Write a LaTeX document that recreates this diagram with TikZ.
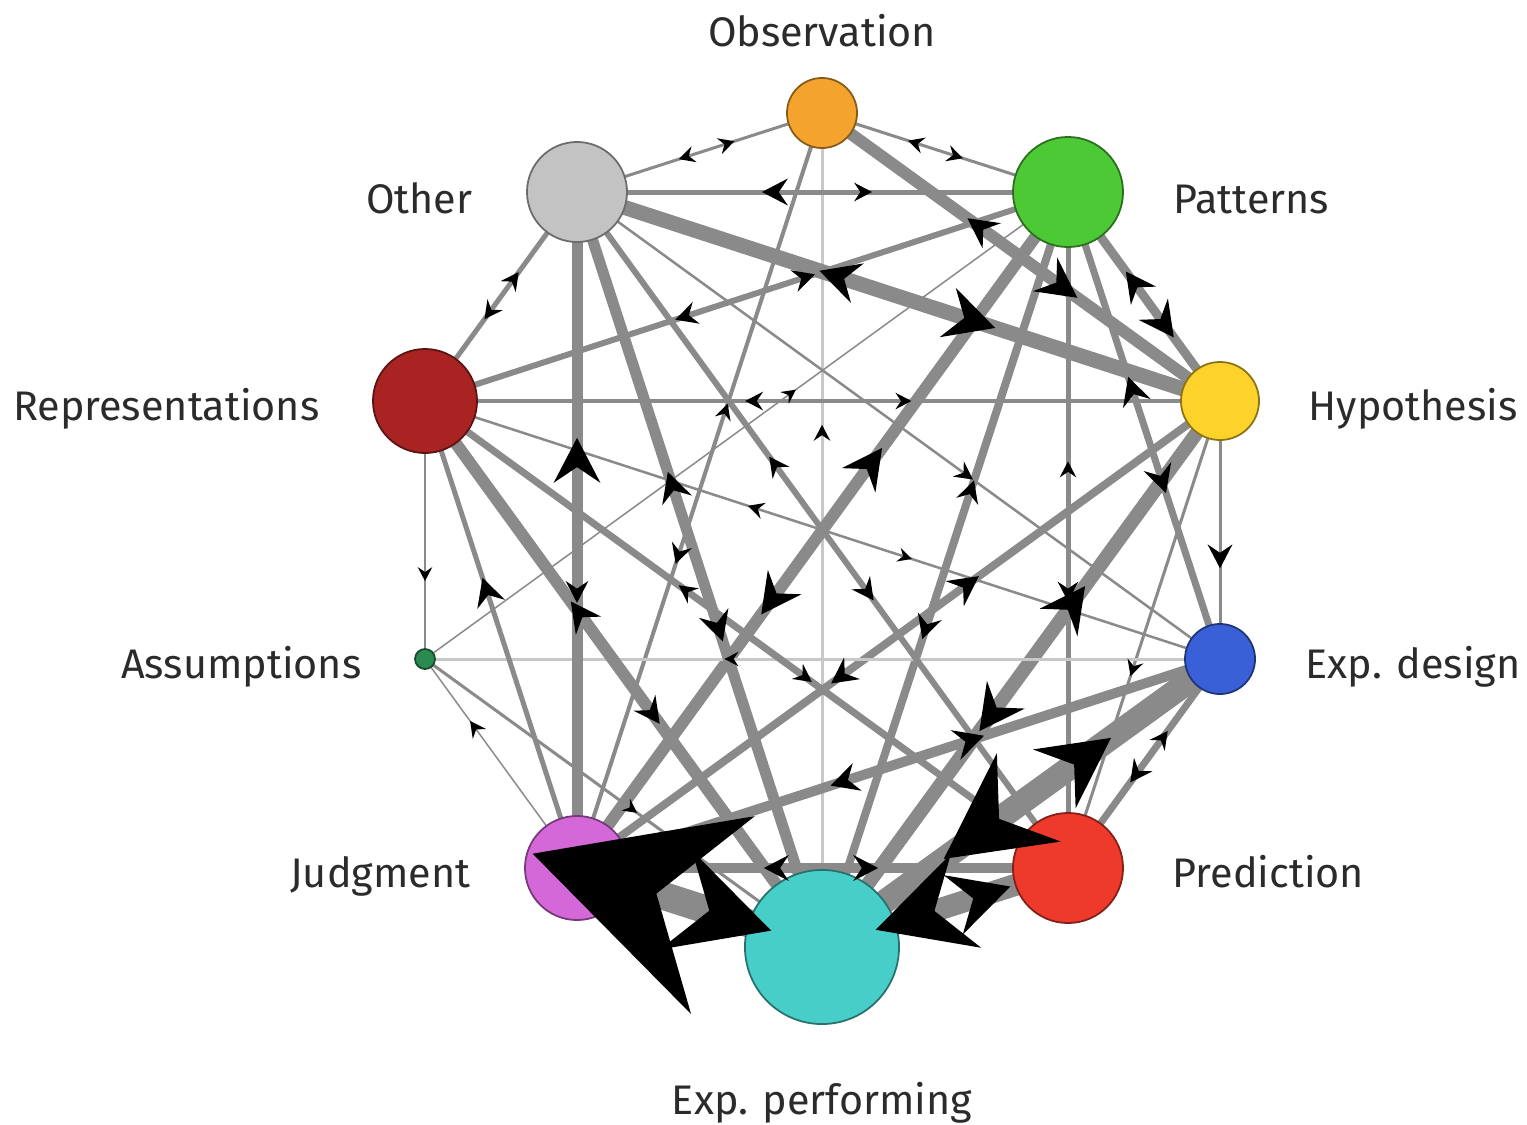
\documentclass[tikz,border=0pt]{standalone}
\usepackage{fontspec}
\setmainfont{Fira Sans}
\usetikzlibrary{decorations.markings}
\pgfdeclarelayer{bg}
\pgfsetlayers{bg,main}
\definecolor{obc}{HTML}{F4A42C}
\definecolor{pac}{HTML}{4CC934}
\definecolor{hyc}{HTML}{FDD22A}
\definecolor{dec}{HTML}{3A60D8}
\definecolor{prc}{HTML}{EE3A2A}
\definecolor{epc}{HTML}{48CEC8}
\definecolor{juc}{HTML}{D568D8}
\definecolor{asc}{HTML}{2A8A50}
\definecolor{rec}{HTML}{A82322}
\definecolor{otc}{HTML}{C3C3C3}
\definecolor{edgec}{HTML}{8A8A8A}
\definecolor{lightc}{HTML}{C8C8C8}
\definecolor{txtc}{HTML}{2B2B2B}
\newcommand\ed[4][edgec]{\draw[draw=#1, line width=#4*0.01cm] (#2.center) -- (#3.center);}
\newcommand\ar[3]{\path[postaction={decorate}, decoration={markings, mark=at position 0.6 with {\fill[black] (0.75*#3,0) -- (-0.25*#3,0.52*#3) -- (0.1*#3,0) -- (-0.25*#3,-0.52*#3) -- cycle;}}] (#1) -- (#2);}
\begin{document}
\begin{tikzpicture}[x=0.01cm,y=-0.01cm,
  vn/.style={circle, draw=#1!55!black, fill=#1, line width=0.5pt, inner sep=0pt, outer sep=0pt},
  lbl/.style={text=txtc, font=\fontsize{11.75pt}{14pt}\selectfont, inner sep=0pt}]
\useasboundingbox (0,0) rectangle (1527,1124);
% nodes
\node[vn=obc, minimum size=0.70cm] (Ob) at (822,113) {};
\node[vn=pac, minimum size=1.10cm] (Pa) at (1068,192) {};
\node[vn=hyc, minimum size=0.78cm] (Hy) at (1220,401) {};
\node[vn=dec, minimum size=0.70cm] (De) at (1220,659) {};
\node[vn=prc, minimum size=1.10cm] (Pr) at (1068,868) {};
\node[vn=epc, minimum size=1.54cm] (EP) at (822,947) {};
\node[vn=juc, minimum size=1.04cm] (Ju) at (577,868) {};
\node[vn=asc, minimum size=0.20cm] (As) at (425,659) {};
\node[vn=rec, minimum size=1.04cm] (Re) at (425,401) {};
\node[vn=otc, minimum size=1.00cm] (Ot) at (577,192) {};
% labels
\node[lbl, anchor=base] (lOb) at (822,46) {Observation};
\node[lbl, anchor=base west] (lPa) at (1173,213) {Patterns};
\node[lbl, anchor=base west] (lHy) at (1308,420) {Hypothesis};
\node[lbl, anchor=base west] (lDe) at (1305,678) {Exp. design};
\node[lbl, anchor=base west] (lPr) at (1172,887) {Prediction};
\node[lbl, anchor=base] (lEP) at (822,1114) {Exp. performing};
\node[lbl, anchor=base east] (lJu) at (471,887) {Judgment};
\node[lbl, anchor=base east] (lAs) at (362,678) {Assumptions};
\node[lbl, anchor=base east] (lRe) at (320,420) {Representations};
\node[lbl, anchor=base east] (lOt) at (473,213) {Other};
% edges
\begin{pgfonlayer}{bg}
\fill[white] (0,0) rectangle (1527,1124);
\ed{Ob}{Pa}{3}
\ed{Ob}{Ot}{3}
\ed{Ob}{Hy}{12}
\ed[lightc]{Ob}{EP}{3}
\ed{Ob}{Ju}{4}
\ed{Pa}{Hy}{9}
\ed{Pa}{De}{7}
\ed{Pa}{Pr}{5}
\ed{Pa}{EP}{8}
\ed{Pa}{Ju}{12}
\ed{Pa}{As}{1.5}
\ed{Pa}{Re}{6}
\ed{Pa}{Ot}{5}
\ed{Hy}{De}{3}
\ed{Hy}{Pr}{3}
\ed{Hy}{EP}{14}
\ed{Hy}{Ju}{8}
\ed{Hy}{Re}{4}
\ed{Hy}{Ot}{15}
\ed{De}{Pr}{7}
\ed{De}{EP}{24}
\ed{De}{Ju}{10}
\ed[lightc]{De}{As}{3}
\ed{De}{Re}{2.5}
\ed{De}{Ot}{2.5}
\ed{Pr}{EP}{22}
\ed{Pr}{Ju}{10}
\ed{Pr}{Re}{7}
\ed{Pr}{Ot}{6}
\ed{EP}{Ju}{28}
\ed{EP}{As}{3}
\ed{EP}{Re}{12}
\ed{EP}{Ot}{11}
\ed{Ju}{As}{1.5}
\ed{Ju}{Re}{5}
\ed{Ju}{Ot}{11}
\ed{As}{Re}{1.5}
\ed{Re}{Ot}{5}
\end{pgfonlayer}
% arrows
\ar{Ob}{Pa}{16}\ar{Pa}{Ob}{16}
\ar{Ob}{Ot}{16}\ar{Ot}{Ob}{16}
\ar{Ob}{Hy}{40}\ar{Hy}{Ob}{30}
\ar{EP}{Ob}{16}
\ar{Ob}{Ju}{20}\ar{Ju}{Ob}{16}
\ar{Pa}{Hy}{35}\ar{Hy}{Pa}{30}
\ar{Pa}{De}{28}\ar{De}{Pa}{28}
\ar{Pr}{Pa}{16}\ar{Pa}{Pr}{20}
\ar{EP}{Pa}{22}\ar{Pa}{EP}{24}
\ar{Ju}{Pa}{40}\ar{Pa}{Ju}{40}
\ar{As}{Pa}{14}
\ar{Pa}{Re}{22}\ar{Re}{Pa}{22}
\ar{Pa}{Ot}{26}\ar{Ot}{Pa}{18}
\ar{Hy}{De}{24}
\ar{Hy}{Pr}{16}
\ar{EP}{Hy}{45}\ar{Hy}{EP}{45}
\ar{Ju}{Hy}{30}\ar{Hy}{Ju}{26}
\ar{Hy}{Re}{18}\ar{Re}{Hy}{16}
\ar{Ot}{Hy}{50}\ar{Hy}{Ot}{40}
\ar{De}{Pr}{22}\ar{Pr}{De}{18}
\ar{EP}{De}{70}\ar{De}{EP}{105}
\ar{Ju}{De}{30}\ar{De}{Ju}{28}
\ar{De}{As}{14}
\ar{Re}{De}{14}\ar{De}{Re}{16}
\ar{Ot}{De}{18}
\ar{Pr}{EP}{95}\ar{EP}{Pr}{60}
\ar{Ju}{Pr}{25}\ar{Pr}{Ju}{25}
\ar{Re}{Pr}{18}\ar{Pr}{Re}{18}
\ar{Ot}{Pr}{22}\ar{Pr}{Ot}{20}
\ar{EP}{Ju}{200}\ar{Ju}{EP}{100}
\ar{As}{EP}{14}
\ar{EP}{Re}{30}\ar{Re}{EP}{26}
\ar{EP}{Ot}{30}\ar{Ot}{EP}{30}
\ar{Ju}{As}{16}
\ar{Ju}{Re}{28}
\ar{Ju}{Ot}{45}\ar{Ot}{Ju}{22}
\ar{Re}{As}{14}
\ar{Re}{Ot}{18}\ar{Ot}{Re}{18}
\end{tikzpicture}
\end{document}
